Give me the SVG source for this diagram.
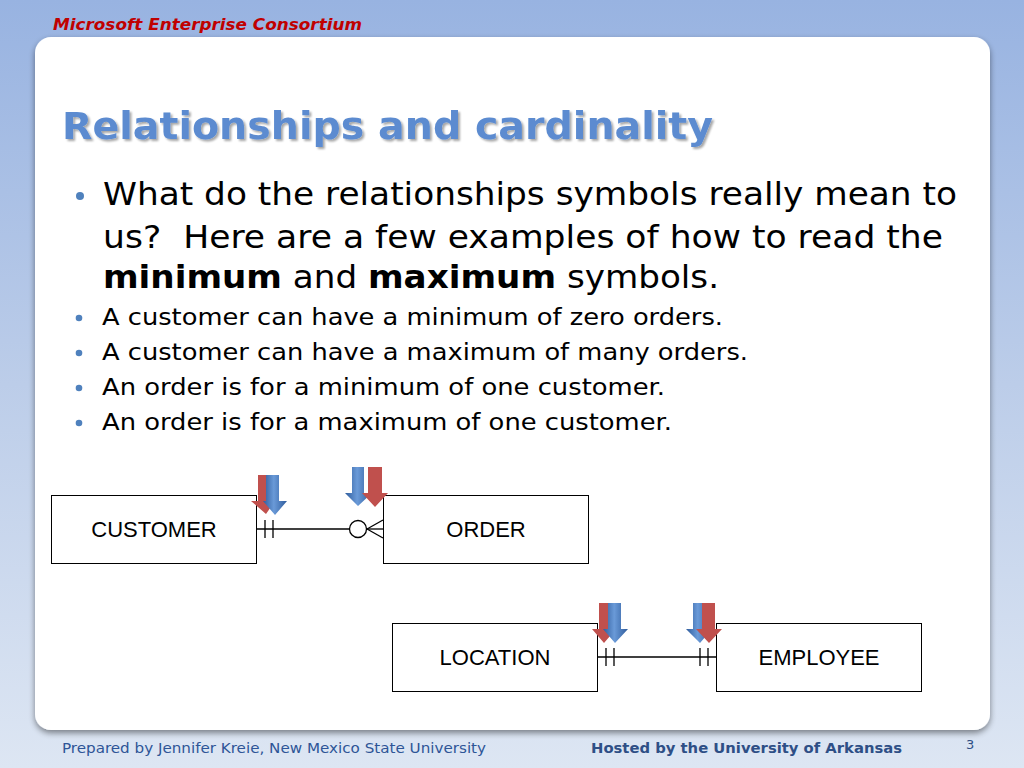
<svg xmlns="http://www.w3.org/2000/svg" width="1024" height="768" viewBox="0 0 1024 768">
<defs>
<linearGradient id="bg" x1="0" y1="0" x2="0" y2="1">
<stop offset="0" stop-color="#98b3e1"/>
<stop offset="0.5" stop-color="#bccde9"/>
<stop offset="1" stop-color="#dde6f3"/>
</linearGradient>
<filter id="sh" x="-5%" y="-5%" width="110%" height="110%">
<feGaussianBlur in="SourceAlpha" stdDeviation="3"/>
<feOffset dx="0" dy="3"/>
<feComponentTransfer><feFuncA type="linear" slope="0.45"/></feComponentTransfer>
<feMerge><feMergeNode/><feMergeNode in="SourceGraphic"/></feMerge>
</filter>
<filter id="tsh" x="-5%" y="-20%" width="110%" height="140%">
<feGaussianBlur in="SourceAlpha" stdDeviation="1"/>
<feOffset dx="2" dy="2"/>
<feComponentTransfer><feFuncA type="linear" slope="0.35"/></feComponentTransfer>
<feMerge><feMergeNode/><feMergeNode in="SourceGraphic"/></feMerge>
</filter>
<linearGradient id="blueA" x1="0" y1="0" x2="1" y2="0">
<stop offset="0" stop-color="#2f5c9c"/>
<stop offset="0.45" stop-color="#6a9ad8"/>
<stop offset="1" stop-color="#2f5c9c"/>
</linearGradient>
<style>
.main{font-family:"DejaVu Sans",Verdana,sans-serif;fill:#000}
.box{fill:#fff;stroke:#000;stroke-width:1}
.lbl{font-family:"Liberation Sans",Arial,sans-serif;font-size:22px;text-anchor:middle;fill:#000}
.ln{stroke:#000;stroke-width:1.3;fill:none}
.dot{fill:#4f81bd}
.blue{fill:url(#blueA)}
.red{fill:#c0504d}
</style>
</defs>
<rect width="1024" height="768" fill="url(#bg)"/>
<text x="53" y="30" font-family="'DejaVu Sans',Verdana,sans-serif" font-weight="bold" font-style="italic" font-size="16" fill="#c00000" textLength="309" lengthAdjust="spacingAndGlyphs">Microsoft Enterprise Consortium</text>
<rect x="35" y="37" width="955" height="693" rx="16" fill="#fff" filter="url(#sh)"/>
<text x="62" y="139" class="main" font-weight="bold" font-size="37" style="fill:#5b8bd0" filter="url(#tsh)" textLength="651" lengthAdjust="spacingAndGlyphs">Relationships and cardinality</text>
<g id="bullets">
<circle class="dot" cx="80" cy="196" r="4"/>
<text x="103" y="205" class="main" font-size="32" textLength="854" lengthAdjust="spacingAndGlyphs">What do the relationships symbols really mean to</text>
<text x="103" y="248" class="main" font-size="32" textLength="840" lengthAdjust="spacingAndGlyphs" xml:space="preserve">us?  Here are a few examples of how to read the</text>
<text x="103" y="288" class="main" font-size="32" textLength="616" lengthAdjust="spacingAndGlyphs"><tspan font-weight="bold">minimum</tspan> and <tspan font-weight="bold">maximum</tspan> symbols.</text>
<circle class="dot" cx="79" cy="318" r="3.3"/>
<text x="102" y="325" class="main" font-size="23" textLength="621" lengthAdjust="spacingAndGlyphs">A customer can have a minimum of zero orders.</text>
<circle class="dot" cx="79" cy="353" r="3.3"/>
<text x="102" y="360" class="main" font-size="23" textLength="646" lengthAdjust="spacingAndGlyphs">A customer can have a maximum of many orders.</text>
<circle class="dot" cx="79" cy="388" r="3.3"/>
<text x="102" y="395" class="main" font-size="23" textLength="563" lengthAdjust="spacingAndGlyphs">An order is for a minimum of one customer.</text>
<circle class="dot" cx="79" cy="423" r="3.3"/>
<text x="102" y="430" class="main" font-size="23" textLength="570" lengthAdjust="spacingAndGlyphs">An order is for a maximum of one customer.</text>
</g>
<g id="customer"><rect class="box" x="51.5" y="495.5" width="205" height="68"/><text class="lbl" x="154" y="537">CUSTOMER</text></g>
<g id="order"><rect class="box" x="383.5" y="495.5" width="205" height="68"/><text class="lbl" x="486" y="537">ORDER</text></g>
<g id="location"><rect class="box" x="392.5" y="623.5" width="205" height="68"/><text class="lbl" x="495" y="665">LOCATION</text></g>
<g id="employee"><rect class="box" x="716.5" y="623.5" width="205" height="68"/><text class="lbl" x="819" y="665">EMPLOYEE</text></g>
<g id="connectors">
<line class="ln" x1="257" y1="529" x2="350" y2="529"/>
<line class="ln" x1="265" y1="520" x2="265" y2="538"/>
<line class="ln" x1="273" y1="520" x2="273" y2="538"/>
<circle class="ln" cx="358" cy="529" r="8.5" style="fill:#fff"/>
<line class="ln" x1="367" y1="529" x2="383" y2="529"/>
<line class="ln" x1="367" y1="529" x2="383" y2="520"/>
<line class="ln" x1="367" y1="529" x2="383" y2="538"/>
<line class="ln" x1="598" y1="657" x2="716" y2="657"/>
<line class="ln" x1="606" y1="648" x2="606" y2="666"/>
<line class="ln" x1="614" y1="648" x2="614" y2="666"/>
<line class="ln" x1="700" y1="648" x2="700" y2="666"/>
<line class="ln" x1="708" y1="648" x2="708" y2="666"/>
</g>
<g id="arrows">
<path class="red" d="M258,475 H268 V501 H275 L266,514 L251,501 H258 Z"/>
<path class="blue" d="M266,475 H279 V501 H287 L275,515 L263,501 H266 Z"/>
<path class="blue" d="M352,467 H364 V493 H372 L358,506 L345,493 H352 Z"/>
<path class="red" d="M368,467 H382 V493 H388 L375,507 L362,493 H368 Z"/>
<path class="red" d="M599,603 H609 V629 H616 L604,643 L592,629 H599 Z"/>
<path class="blue" d="M608,603 H621 V629 H628 L615,643 L603,629 H608 Z"/>
<path class="blue" d="M693,603 H702 V629 H712 L700,643 L686,629 H693 Z"/>
<path class="red" d="M702,603 H715 V629 H722 L709,643 L696,629 H702 Z"/>
</g>
<text x="62" y="753" font-family="'DejaVu Sans Condensed','DejaVu Sans',sans-serif" font-size="14" fill="#2e5597" textLength="424" lengthAdjust="spacingAndGlyphs">Prepared by Jennifer Kreie, New Mexico State University</text>
<text x="591" y="753" font-family="'DejaVu Sans Condensed','DejaVu Sans',sans-serif" font-weight="bold" font-size="14" fill="#2e4f86" textLength="311" lengthAdjust="spacingAndGlyphs">Hosted by the University of Arkansas</text>
<text x="966" y="749" font-family="'DejaVu Sans',sans-serif" font-size="13" fill="#2e4f86">3</text>
</svg>
